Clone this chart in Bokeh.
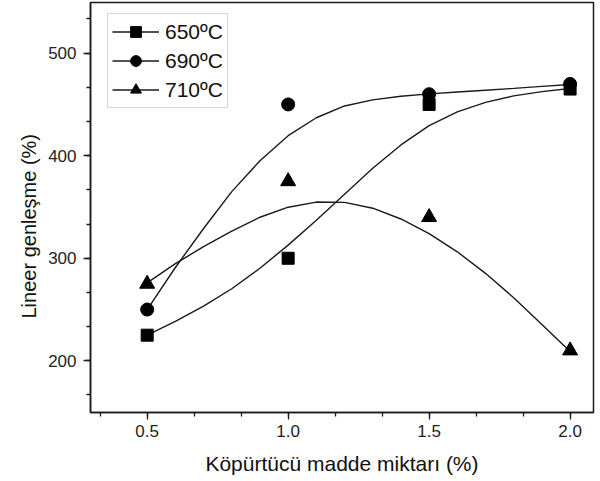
from bokeh.plotting import figure
from bokeh.models import (Range1d, SingleIntervalTicker, PrintfTickFormatter,
                          Legend, LegendItem, Title)
from bokeh.embed import file_html
from bokeh.resources import INLINE

# measured points
x_pts = [0.5, 1.0, 1.5, 2.0]
y650 = [225, 300, 450, 465]
y690 = [250, 450, 460, 470]
y710 = [275, 375, 340, 210]

# fitted curves
x_curve = [0.5, 0.6, 0.7, 0.8, 0.9, 1.0, 1.1, 1.2, 1.3, 1.4, 1.5, 1.6, 1.7, 1.8, 1.9, 2.0]
c650 = [225, 238.5, 253.3, 270.3, 290.3, 312.8, 337, 362.5, 387.8, 410.5, 429.3,
        442.8, 452, 458.3, 462.5, 465.5]
c690 = [250, 291, 329, 365, 395, 419.5, 437, 448.5, 454.5, 458, 460.3,
        462.1, 463.9, 465.7, 467.6, 469.5]
c710 = [276, 294.8, 311.3, 326.5, 340, 349.8, 354.8, 354.5, 348.8, 338.3, 324,
        306.3, 285.3, 261.5, 235.5, 209]

labels = ["650ºC", "690ºC", "710ºC"]
markers = ["square", "circle", "triangle"]
sizes = [12, 13, 15]

x_title = "Köpürtücü madde miktarı (%)"
y_title = "Lineer genleşme (%)"

FONT = "Liberation Sans"
INK = "#1a1a1a"

p = figure(width=598, height=481, output_backend="svg", toolbar_location=None,
           x_range=Range1d(0.299, 2.083), y_range=Range1d(149.6, 549.4),
           min_border_left=90, min_border_right=5, min_border_top=2,
           min_border_bottom=69)

p.background_fill_color = "white"
p.border_fill_color = "white"
p.outline_line_color = INK
p.outline_line_width = 1.5
p.grid.visible = False

items = []
for ys_c, ys, lab, mk, sz in zip([c650, c690, c710], [y650, y690, y710],
                                 labels, markers, sizes):
    ln = p.line(x_curve, ys_c, line_color=INK, line_width=1.4)
    sc = p.scatter(x_pts, ys, marker=mk, size=sz, fill_color="black",
                   line_color="black")
    items.append(LegendItem(label=lab, renderers=[ln, sc]))

for ax in (p.xaxis[0], p.yaxis[0]):
    ax.axis_line_color = INK
    ax.axis_line_width = 1.5
    ax.major_tick_line_color = INK
    ax.minor_tick_line_color = INK
    ax.major_tick_line_width = 1.3
    ax.minor_tick_line_width = 1.3
    ax.major_tick_out = 7
    ax.major_tick_in = 0
    ax.minor_tick_out = 4
    ax.minor_tick_in = 0
    ax.major_label_text_font = FONT
    ax.major_label_text_font_size = "17px"
    ax.major_label_text_color = "#222222"
    ax.axis_label_text_font = FONT
    ax.axis_label_text_font_style = "normal"
    ax.axis_label_text_color = "#111111"

p.xaxis.axis_label_text_font_size = "21px"
p.xaxis.ticker = SingleIntervalTicker(interval=0.5, num_minor_ticks=3)
p.xaxis.formatter = PrintfTickFormatter(format="%.1f")
p.yaxis.ticker = SingleIntervalTicker(interval=100, num_minor_ticks=3)
p.xaxis.axis_label = x_title
p.xaxis.major_label_standoff = 5
p.yaxis.major_label_standoff = 7
p.xaxis.axis_label_standoff = 12

# y axis title, sitting a little below the frame's middle as in the original
ytitle = Title(text=y_title, align="left", offset=94, standoff=12,
               text_font=FONT, text_font_size="20px", text_font_style="normal",
               text_color="#111111")
p.add_layout(ytitle, "left")

legend = Legend(items=items, location=(17, 304), orientation="vertical",
                label_text_font=FONT, label_text_font_size="21px",
                label_text_color="#111111", glyph_width=47, glyph_height=27,
                label_height=27, label_standoff=6, spacing=2, padding=4,
                margin=0, border_line_color="#b0b0b0", border_line_width=1,
                background_fill_color="white", background_fill_alpha=1.0)
p.add_layout(legend, "center")

open("out.html", "w").write(file_html(p, INLINE))
